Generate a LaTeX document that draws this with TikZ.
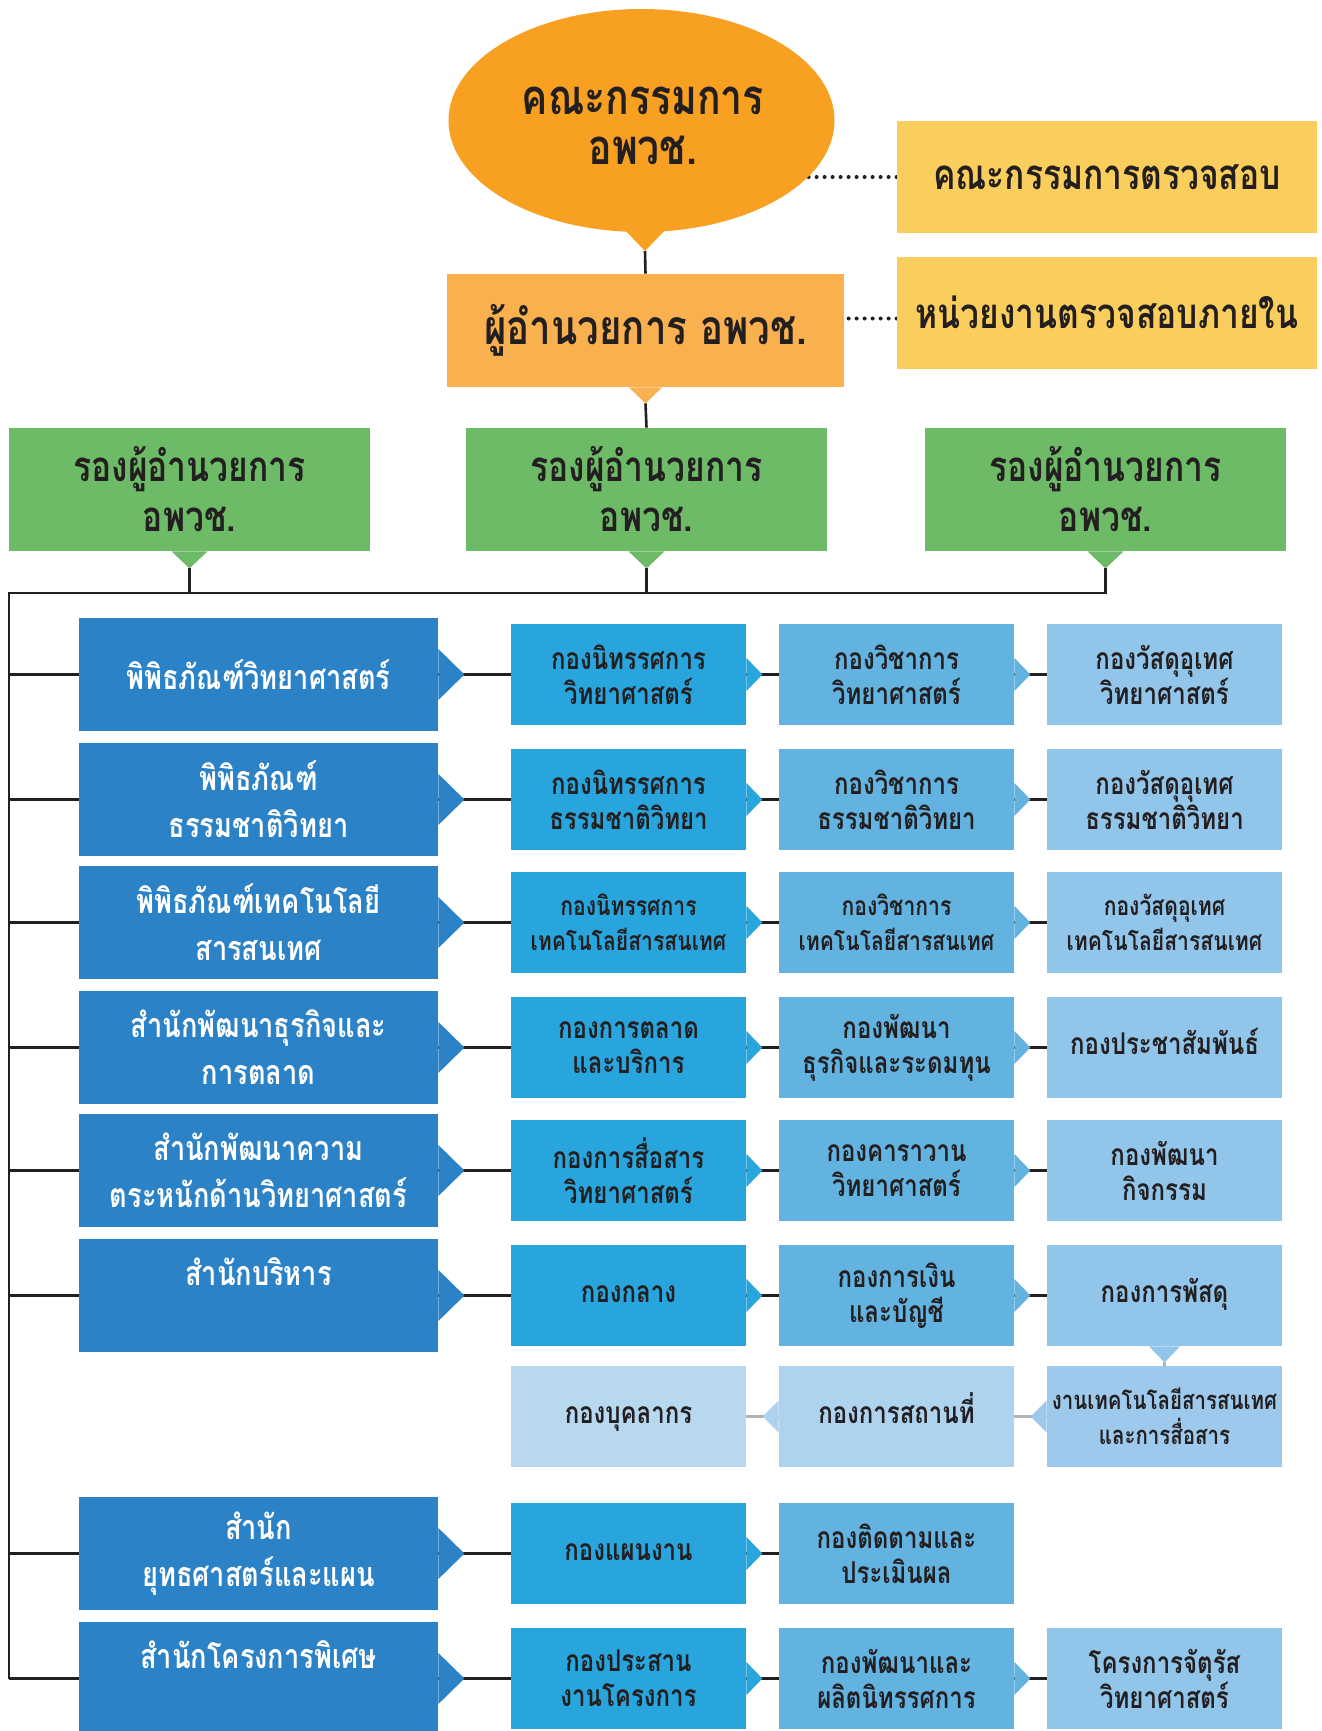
\documentclass[tikz,border=0pt]{standalone}
\usepackage{fontspec}
\newfontfamily\thai[Script=Thai,FakeStretch=0.8]{Loma}
\usetikzlibrary{shapes.geometric,backgrounds}
\definecolor{boardorange}{HTML}{F7A021}
\definecolor{dirorange}{HTML}{F9B04F}
\definecolor{audityellow}{HTML}{FACE5C}
\definecolor{deputygreen}{HTML}{6DBA67}
\definecolor{officeblue}{HTML}{2B82C6}
\definecolor{colA}{HTML}{29A5DD}
\definecolor{colB}{HTML}{63B3E1}
\definecolor{colC}{HTML}{92C5EA}
\definecolor{lowA}{HTML}{B8D8F0}
\definecolor{lowB}{HTML}{ADD3EF}
\definecolor{lowC}{HTML}{9DCAEC}
\definecolor{inkdark}{HTML}{231F20}
\newcommand\fs[2]{\fontsize{#1}{#2}\selectfont}
\tikzset{
  box/.style={rectangle, inner sep=0pt, align=center, text=inkdark},
  office/.style={box, fill=officeblue, text=white, minimum width=179.5pt, minimum height=56.5pt, font=\thai\bfseries\fs{17}{23.5}},
  unit/.style={box, minimum width=117.5pt, minimum height=50.5pt, font=\thai\bfseries\fs{15}{17.5}},
  smallunit/.style={font=\thai\bfseries\fs{13.2}{17.5}},
  oneline/.style={text height=9pt, text depth=2pt},
  deputy/.style={box, fill=deputygreen, minimum width=180.5pt, minimum height=61.5pt, font=\thai\bfseries\fs{21}{25}},
  audit/.style={box, fill=audityellow, minimum width=210pt, minimum height=56pt, font=\thai\bfseries\fs{21}{25}},
  conn/.style={line width=1.3pt, draw=inkdark},
  lowconn/.style={line width=1.3pt, draw=black!30},
  dots/.style={line width=2pt, line cap=round, dash pattern=on 0pt off 4pt, draw=inkdark},
}
\begin{document}
\begin{tikzpicture}[x=0.5pt,y=-0.5pt]
\useasboundingbox (0,0) rectangle (1322,1731);
% board and director
\node[ellipse, fill=boardorange, minimum width=193pt, minimum height=111.5pt, inner sep=0pt] (board) at (641.5,120.5) {};
\fill[boardorange] (621,226) -- (645,251) -- (669,226) -- cycle;
\coordinate (boardtip) at (645,251);
\node[box, font=\thai\bfseries\fs{24.5}{25}] (boardtxt) at (643,126) {คณะกรรมการ\\อพวช.};
\node[box, fill=dirorange, minimum width=198.5pt, minimum height=56.5pt, font=\thai\bfseries\fs{24}{25}] (dir) at (645.5,330.5) {ผู้อำนวยการ อพวช.};
\fill[dirorange] (dir.south) ++(-16.5,0) -- ++(16.5,16) -- ++(16.5,-16) -- cycle;
\coordinate (dirtip) at ([yshift=-8pt]dir.south);
\node[audit] (audit) at (1107,177) {คณะกรรมการตรวจสอบ};
\node[audit] (intaudit) at (1107,312.5) {หน่วยงานตรวจสอบภายใน};
% deputies
\foreach \n/\x in {1/189.5,2/646.5,3/1105.5}{
  \node[deputy] (dep\n) at (\x,489.5) {รองผู้อำนวยการ\\อพวช.};
  \fill[deputygreen] (dep\n.south) ++(-18,0) -- ++(18,17) -- ++(18,-17) -- cycle;
  \coordinate (tip\n) at ([yshift=-8.5pt]dep\n.south);
}
\coordinate (bus) at (9,593);
% offices
\foreach \r/\y/\t in {1/674.5/{พิพิธภัณฑ์วิทยาศาสตร์},
  2/799.5/{พิพิธภัณฑ์\\ธรรมชาติวิทยา},
  3/922.5/{พิพิธภัณฑ์เทคโนโลยี\\สารสนเทศ},
  4/1047.5/{สำนักพัฒนาธุรกิจและ\\การตลาด},
  5/1170.5/{สำนักพัฒนาความ\\ตระหนักด้านวิทยาศาสตร์},
  6/1295.5/{สำนักบริหาร\\~},
  8/1553.5/{สำนัก\\ยุทธศาสตร์และแผน},
  9/1678.5/{สำนักโครงการพิเศษ\\~}}{
  \node[office] (d\r) at (258.5,\y) {\t};
  \fill[officeblue] (d\r.east) ++(0,-25.5) -- ++(26,25.5) -- ++(-26,25.5) -- cycle;
}
% divisions
\foreach \r/\y/\o/\t in {1/674.5/unit/{กองนิทรรศการ\\วิทยาศาสตร์},
  2/799.5/unit/{กองนิทรรศการ\\ธรรมชาติวิทยา},
  3/922.5/smallunit/{กองนิทรรศการ\\เทคโนโลยีสารสนเทศ},
  4/1047.5/unit/{กองการตลาด\\และบริการ},
  5/1170.5/unit/{กองการสื่อสาร\\วิทยาศาสตร์},
  6/1295.5/oneline/{กองกลาง},
  8/1553.5/oneline/{กองแผนงาน},
  9/1678.5/unit/{กองประสาน\\งานโครงการ}}{
  \node[unit, \o, fill=colA] (a\r) at (628.5,\y) {\t};
  \fill[colA] (a\r.east) ++(0,-16.5) -- ++(16,16.5) -- ++(-16,16.5) -- cycle;
}
\foreach \r/\y/\o/\t in {1/674.5/unit/{กองวิชาการ\\วิทยาศาสตร์},
  2/799.5/unit/{กองวิชาการ\\ธรรมชาติวิทยา},
  3/922.5/smallunit/{กองวิชาการ\\เทคโนโลยีสารสนเทศ},
  4/1047.5/unit/{กองพัฒนา\\ธุรกิจและระดมทุน},
  5/1170.5/unit/{กองคาราวาน\\วิทยาศาสตร์},
  6/1295.5/unit/{กองการเงิน\\และบัญชี},
  8/1553.5/unit/{กองติดตามและ\\ประเมินผล},
  9/1678.5/unit/{กองพัฒนาและ\\ผลิตนิทรรศการ}}
  \node[unit, \o, fill=colB] (b\r) at (896.5,\y) {\t};
\foreach \r in {1,...,6,9}
  \fill[colB] (b\r.east) ++(0,-16.5) -- ++(16,16.5) -- ++(-16,16.5) -- cycle;
\foreach \r/\y/\o/\t in {1/674.5/unit/{กองวัสดุอุเทศ\\วิทยาศาสตร์},
  2/799.5/unit/{กองวัสดุอุเทศ\\ธรรมชาติวิทยา},
  3/922.5/smallunit/{กองวัสดุอุเทศ\\เทคโนโลยีสารสนเทศ},
  4/1047.5/oneline/{กองประชาสัมพันธ์},
  5/1170.5/unit/{กองพัฒนา\\กิจกรรม},
  6/1295.5/oneline/{กองการพัสดุ},
  9/1678.5/unit/{โครงการจัตุรัส\\วิทยาศาสตร์}}
  \node[unit, \o, fill=colC] (c\r) at (1164.5,\y) {\t};
\fill[colC] (c6.south) ++(-15.5,0) -- ++(15.5,16) -- ++(15.5,-16) -- cycle;
\coordinate (c6tip) at ([yshift=-8pt]c6.south);
% lower row of administration
\node[unit, oneline, fill=lowA] (e1) at (628.5,1416.5) {กองบุคลากร};
\node[unit, oneline, fill=lowB] (e2) at (896.5,1416.5) {กองการสถานที่};
\node[unit, font=\thai\bfseries\fs{12.8}{17.5}, fill=lowC] (e3) at (1164.5,1416.5) {งานเทคโนโลยีสารสนเทศ\\และการสื่อสาร};
\fill[lowB] (e2.west) ++(0,-16) -- ++(-16,16) -- ++(16,16) -- cycle;
\fill[lowC] (e3.west) ++(0,-16) -- ++(-16,16) -- ++(16,16) -- cycle;
% connectors
\begin{scope}[on background layer]
\draw[conn] (boardtip) -- (dir.north) (dirtip) -- (dep2.north);
\draw[conn] (tip3) |- (bus) -- (bus |- d9.west);
\draw[conn] (tip1) -- (tip1 |- bus) (tip2) -- (tip2 |- bus);
\foreach \r in {1,2,3,4,5,6,8,9} \draw[conn] (d\r.west -| bus) -- (a\r.west);
\foreach \r in {1,...,6,8,9} \draw[conn] (a\r.east) -- (b\r.west);
\foreach \r in {1,...,6,9} \draw[conn] (b\r.east) -- (c\r.west);
\draw[dots] (audit.west) -- (audit.west -| board.center);
\draw[dots] ([yshift=-3pt]intaudit.west) -- ([yshift=-3pt]intaudit.west -| dir.center);
\draw[lowconn] (c6tip) -- (e3.north) (e3.west) -- (e2.east) (e2.west) -- (e1.east);
\end{scope}
\end{tikzpicture}
\end{document}
